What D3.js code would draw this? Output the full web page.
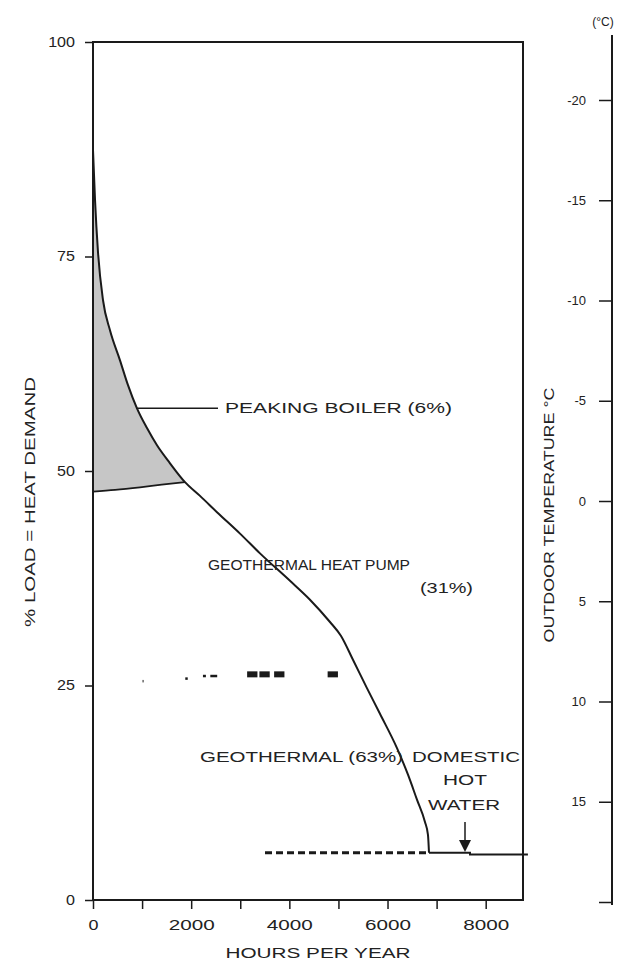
<!DOCTYPE html>
<html><head><meta charset="utf-8">
<script src="https://cdn.jsdelivr.net/npm/d3@7"></script>
<style>body{margin:0;background:#fff}text{font-family:"Liberation Sans",Arial,sans-serif;fill:#222}</style>
</head><body>
<svg id="c" width="632" height="965"></svg>
<script>
// ---- data ----
const hourTicks = [0,1000,2000,3000,4000,5000,6000,7000,8000];
const hourLabels = [0,2000,4000,6000,8000];
const loadTicks = [0,25,50,75,100];
const tempTicks = [-20,-15,-10,-5,0,5,10,15,20];
const tempLabels = ["-20","-15","-10","-5","0","5","10","15",""];
// load duration curve: [hours, % load]
const curveHours = [0,41,102,204,346,550,713,896,1100,1304,1569,1874,2180,2526,2995,3402,4013,4420,4828,5050,5296,5581,5846,6193,6417,6600,6763,6824,6845];
const curveLoad  = [87.4,81.6,75.5,69.9,66.4,62.9,60.0,57.3,55.0,53.0,50.9,48.7,47.1,45.2,42.7,40.4,37.2,35.0,32.4,30.8,28.0,24.7,21.7,17.7,14.6,11.7,9.1,7.6,5.5];
// heat pump capacity limit (lower boundary of peaking boiler area)
const boilerHours = [0,450,957,1400,1874];
const boilerLoad  = [47.6,47.8,48.1,48.4,48.7];
// domestic hot water base
const dhwHours = [6845,7680,7680,8860];
const dhwLoad  = [5.5,5.5,5.3,5.3];
const dhwDashHours = [3504,6824];
const dhwDashLoad = 5.5;
// scattered marks near 26 %
const markHours = [[1010,1030],[1880,1930],[2240,2300],[2390,2530],[3140,3350],[3390,3600],[3690,3900],[4780,4990]];
const markLoad  = [25.3,25.6,25.9,25.9,26.3,26.3,26.3,26.3];

// ---- scales ----
const x = d3.scaleLinear().domain([0,8760]).range([93,523]);
const y = d3.scaleLinear().domain([0,100]).range([900,42]);
const t = d3.scaleLinear().domain([-20,20]).range([100,902]);

const svg = d3.select("#c");
const ink = "#1a1a1a";
const smooth = d3.curveMonotoneX;

// shaded peaking boiler area
const topPts = curveHours.map((h,i)=>[h,curveLoad[i]]).filter(p=>p[0]<=1874);
const botPts = boilerHours.map((h,i)=>[h,boilerLoad[i]]);
const botInterp = d3.scaleLinear().domain(boilerHours).range(boilerLoad);
svg.append("path")
  .attr("d", d3.area().x(d=>x(d[0])).y0(d=>y(botInterp(d[0]))).y1(d=>y(d[1])).curve(smooth)(topPts))
  .attr("fill","#c6c6c6");

// frame
svg.append("rect").attr("x",x(0)).attr("y",y(100)).attr("width",x(8760)-x(0)).attr("height",y(0)-y(100))
  .attr("fill","none").attr("stroke",ink).attr("stroke-width",2);

// left axis
const ga = svg.append("g").attr("transform",`translate(${x(0)},0)`)
  .call(d3.axisLeft(y).tickValues(loadTicks).tickSize(8).tickPadding(10));
ga.select(".domain").remove();
ga.selectAll("line").attr("stroke",ink).attr("stroke-width",1.5);
ga.selectAll("text").attr("font-size",14).attr("fill","#222").attr("transform","scale(1.15,1)")
  .attr("x",-18/1.15);

// bottom axis
const gb = svg.append("g").attr("transform",`translate(0,${y(0)})`)
  .call(d3.axisBottom(x).tickValues(hourTicks).tickSize(9).tickFormat(d=>hourLabels.includes(d)?d:"").tickPadding(11));
gb.select(".domain").remove();
gb.selectAll("line").attr("stroke",ink).attr("stroke-width",1.5);
gb.selectAll("text").attr("font-size",14).attr("fill","#222")
  .attr("textLength",d=>d===0?10:46).attr("lengthAdjust","spacingAndGlyphs");

// right temperature axis
const gr = svg.append("g").attr("transform","translate(612,0)")
  .call(d3.axisLeft(t).tickValues(tempTicks).tickSize(13).tickPadding(13).tickFormat((d,i)=>tempLabels[i]));
gr.select(".domain").remove();
gr.selectAll("line").attr("stroke",ink).attr("stroke-width",1.5);
gr.selectAll("text").attr("font-size",13).attr("fill","#222");
svg.append("line").attr("x1",612).attr("x2",612).attr("y1",35).attr("y2",905).attr("stroke",ink).attr("stroke-width",2);
svg.append("text").attr("x",603).attr("y",26).attr("text-anchor","middle").attr("font-size",12).text("(°C)");

// curves
const line = d3.line().x(d=>x(d[0])).y(d=>y(d[1]));
svg.append("path").attr("d",line.curve(smooth)(curveHours.map((h,i)=>[h,curveLoad[i]])))
  .attr("fill","none").attr("stroke",ink).attr("stroke-width",2);
svg.append("path").attr("d",line.curve(smooth)(botPts))
  .attr("fill","none").attr("stroke",ink).attr("stroke-width",1.8);
svg.append("path").attr("d",line.curve(d3.curveLinear)(dhwHours.map((h,i)=>[h,dhwLoad[i]])))
  .attr("fill","none").attr("stroke",ink).attr("stroke-width",2);
svg.append("line").attr("x1",x(dhwDashHours[0])).attr("x2",x(dhwDashHours[1]))
  .attr("y1",y(dhwDashLoad)).attr("y2",y(dhwDashLoad))
  .attr("stroke",ink).attr("stroke-width",3).attr("stroke-dasharray","7,4");
// scattered marks
svg.selectAll("rect.mk").data(markHours).enter().append("rect").attr("class","mk")
  .attr("x",d=>x(d[0])).attr("width",d=>x(d[1])-x(d[0]))
  .attr("y",(d,i)=>y(markLoad[i])-3).attr("height",(d,i)=>(d[1]-d[0])>150?6:2.5)
  .attr("fill",ink);

// leader line for peaking boiler
svg.append("line").attr("x1",x(896)).attr("x2",218).attr("y1",y(57.3)).attr("y2",y(57.3))
  .attr("stroke",ink).attr("stroke-width",1.5);

// arrow for DHW
svg.append("line").attr("x1",465).attr("x2",465).attr("y1",822).attr("y2",842).attr("stroke",ink).attr("stroke-width",1.5);
svg.append("path").attr("d","M459,840 L471,840 L465,852 Z").attr("fill",ink);

// labels
const lab = (tx,xx,yy,len,anchor="start",fs=14)=>svg.append("text").attr("x",xx).attr("y",yy)
  .attr("text-anchor",anchor).attr("font-size",fs).attr("textLength",len).attr("lengthAdjust","spacingAndGlyphs").text(tx);
lab("PEAKING BOILER (6%)",225,413,227);
lab("GEOTHERMAL HEAT PUMP",208,570,202,"start",14.5);
lab("(31%)",420,593,53);
lab("GEOTHERMAL (63%)",200,762,203);
lab("DOMESTIC",412,762,108);
lab("HOT",465,785,44,"middle");
lab("WATER",464,810,72,"middle");
lab("HOURS PER YEAR",318,958,185,"middle");

svg.append("text").attr("transform","translate(35,502) rotate(-90)").attr("text-anchor","middle")
  .attr("font-size",14).attr("textLength",250).attr("lengthAdjust","spacingAndGlyphs").text("% LOAD = HEAT DEMAND");
svg.append("text").attr("transform","translate(554,515) rotate(-90)").attr("text-anchor","middle")
  .attr("font-size",14).attr("textLength",255).attr("lengthAdjust","spacingAndGlyphs").text("OUTDOOR TEMPERATURE °C");
</script>
</body></html>
